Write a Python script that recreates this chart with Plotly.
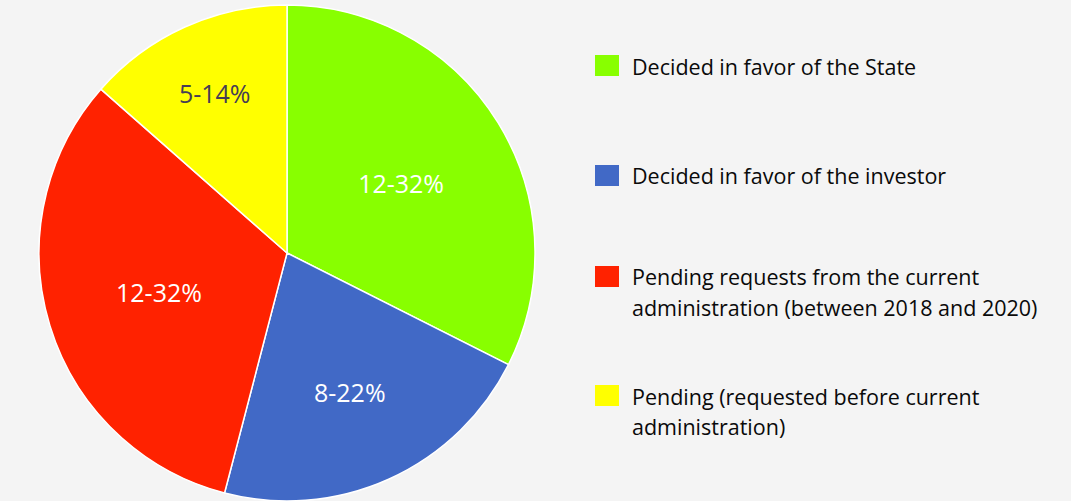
import plotly.graph_objects as go

# Arbitration case outcomes
categories = [
    "Decided in favor of the State",
    "Decided in favor of the investor",
    "Pending requests from the current<br>administration (between 2018 and 2020)",
    "Pending (requested before current<br>administration)",
]
counts = [12, 8, 12, 5]
colors = ["#88FF00", "#4169C6", "#FF2200", "#FFFF00"]
label_colors = ["#FFFFFF", "#FFFFFF", "#FFFFFF", "#463D55"]

total = sum(counts)
pct_labels = [f"{c}-{round(100 * c / total)}%" for c in counts]

BG = "#F4F4F4"
FONT = "Open Sans, Noto Sans, sans-serif"

fig = go.Figure(
    go.Pie(
        labels=categories,
        values=counts,
        text=pct_labels,
        textinfo="text",
        textposition="inside",
        insidetextorientation="horizontal",
        insidetextfont=dict(color=label_colors, size=25, family=FONT),
        marker=dict(colors=colors, line=dict(color="#FFFFFF", width=1.5)),
        sort=False,
        direction="clockwise",
        rotation=0,
        hole=0,
        domain=dict(x=[0.022, 0.514], y=[0.0, 0.99]),
        showlegend=False,
    )
)

# Legend drawn at the right: colour swatch plus wrapped label lines
legend_rows = [
    (65.5, ["Decided in favor of the State"], [67]),
    (175.5, ["Decided in favor of the investor"], [175]),
    (276.5, ["Pending requests from the current", "administration (between 2018 and 2020)"], [276, 307]),
    (395.5, ["Pending (requested before current", "administration)"], [396, 426]),
]
W, H = 1071, 501
for (sq_y, lines, ys), col in zip(legend_rows, colors):
    fig.add_shape(
        type="rect", xref="paper", yref="paper",
        x0=595 / W, x1=619 / W,
        y0=1 - (sq_y + 10.5) / H, y1=1 - (sq_y - 10.5) / H,
        fillcolor=col, line=dict(width=0),
    )
    for line, ty in zip(lines, ys):
        fig.add_annotation(
            x=630 / W, y=1 - ty / H, xref="paper", yref="paper",
            text=line, showarrow=False, xanchor="left", yanchor="middle",
            font=dict(size=21.5, color="#0A0A0A", family=FONT),
        )

fig.update_layout(
    width=W, height=H,
    margin=dict(l=0, r=0, t=0, b=0),
    paper_bgcolor=BG, plot_bgcolor=BG,
)

fig.write_html("out.html")
